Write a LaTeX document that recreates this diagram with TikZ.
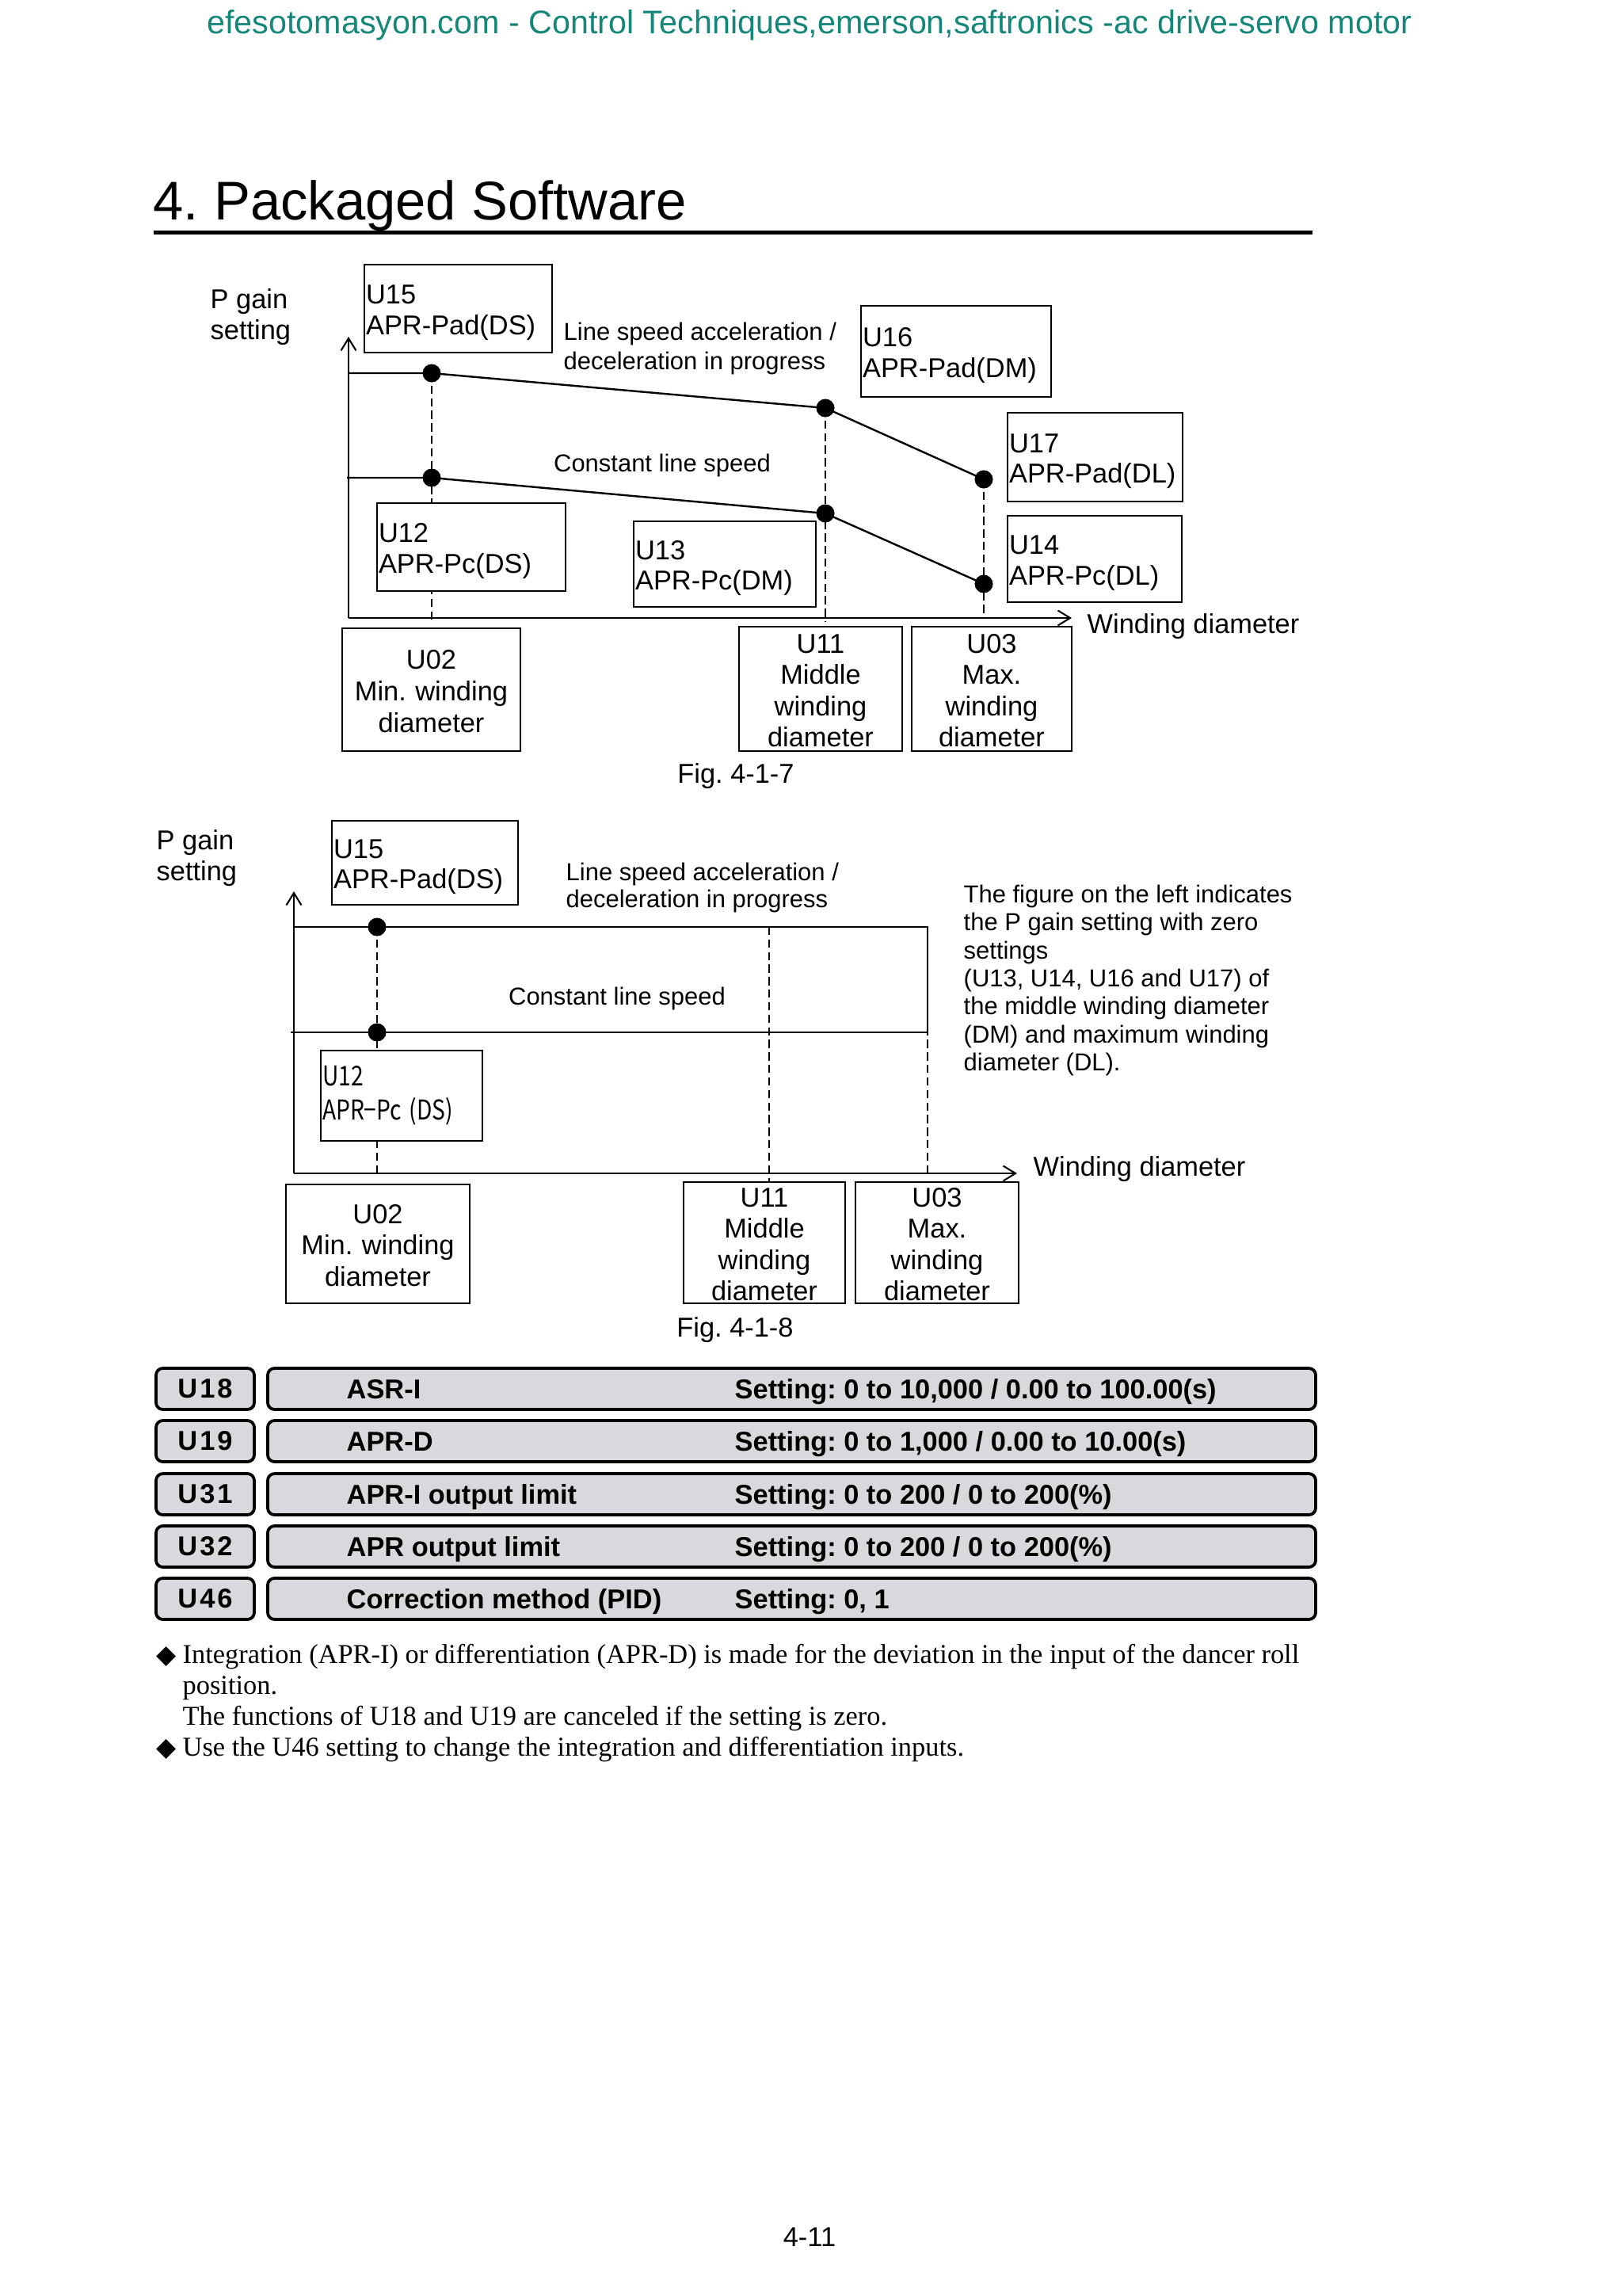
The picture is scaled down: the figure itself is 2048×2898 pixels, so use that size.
\documentclass[tikz,border=0pt]{standalone}
\usepackage{fontspec}
\usepackage{graphicx}
\setmainfont{Liberation Sans}
\newfontfamily\tmfont{Liberation Serif}
\newfontfamily\djfont{DejaVu Sans}
\newfontfamily\jpfont{Noto Sans CJK JP}
\newfontfamily\lsfont[LetterSpace=9]{Liberation Sans}
\usetikzlibrary{arrows.meta}
\definecolor{teal2}{RGB}{20,135,122}
\definecolor{barfill}{RGB}{218,216,220}
\frenchspacing
\begin{document}
\frenchspacing
\begin{tikzpicture}[x=0.29067pt, y=-0.29067pt,
  every node/.style={inner sep=0pt},
  ten/.style={font=\fontsize{10}{11.2}\selectfont},
  nine/.style={font=\fontsize{9}{11}\selectfont, align=left},
  lbox/.style={draw, line width=0.6pt, fill=white, inner xsep=0.6pt, inner ysep=0pt, align=left, font=\fontsize{10}{11.2}\selectfont, execute at begin node={\rule{0pt}{10pt}}},
  cbox/.style={draw, line width=0.6pt, fill=white, inner sep=0pt, align=center, font=\fontsize{10}{11.5}\selectfont, execute at begin node={\rule{0pt}{8.2pt}}},
  guide/.style={line width=0.6pt, dash pattern=on 3pt off 1.6pt},
  curve/.style={line width=0.7pt},
  dot/.style={circle, fill=black, minimum size=6.6pt},
  axis/.style={line width=0.6pt, -{Straight Barb[length=4.5pt,width=5.5pt]}},
  bar/.style={draw, line width=1.1pt, rounded corners=2.5pt, fill=barfill},
  btxt/.style={font=\bfseries\fontsize{10}{12}\selectfont, anchor=base west},
  note/.style={font=\tmfont\fontsize{10}{11.4}\selectfont, anchor=base west},
]
\useasboundingbox (0,0) rectangle (2048,2898);
\fill[white] (0,0) rectangle (2048,2898);

% header and title
\node[anchor=base, text=teal2, font=\fontsize{12}{14}\selectfont] (hdr) at (1022,42)
  {efesotomasyon.com - Control Techniques,emerson,saftronics -ac drive-servo motor};
\node[anchor=base west, font=\fontsize{20}{24}\selectfont] (title) at (193,277) {4. Packaged Software};
\coordinate (rl) at (194,293);
\coordinate (rr) at (1657,293);
\draw[line width=1.45pt] (rl) -- (rr);

% ================= Fig. 4-1-7 =================
\coordinate (o1) at (440,780);
\coordinate (yt1) at (440,425);
\coordinate (xt1) at (1353,780);
\coordinate (s1) at (440,471);
\coordinate (s2) at (438,603);
\coordinate (ea) at (545,783);
\coordinate (eb) at (1042,785);
\coordinate (ec) at (1242,780);
\node[dot] (a1) at (545,471) {};
\node[dot] (b1) at (1042,515) {};
\node[dot] (c1) at (1242,605) {};
\node[dot] (a2) at (545,603) {};
\node[dot] (b2) at (1042,648) {};
\node[dot] (c2) at (1242,737) {};

\draw[guide] (a1.center) -- (ea);
\draw[guide] (b1.center) -- (eb);
\draw[guide] (c1.center) -- (ec);

\node[ten, anchor=north west, align=left] (pg1) at (265,364) {P gain\\setting};
\node[lbox, text width=67.69pt, minimum height=32.26pt] (u15a) at (578.5,389.5) {U15\\APR-Pad(DS)};
\node[nine, anchor=north west] (ls1) at (711,406) {Line speed acceleration /\\deceleration in progress};
\node[lbox, text width=68.56pt, minimum height=33.43pt] (u16) at (1207,443.5) {U16\\APR-Pad(DM)};
\node[lbox, text width=68.0pt, minimum height=32.26pt] (u12a) at (595,690.5) {U12\\APR-Pc(DS)};
\node[lbox, text width=65.65pt, minimum height=31.39pt] (u13) at (915,712) {U13\\APR-Pc(DM)};
\node[lbox, text width=63.04pt, minimum height=32.56pt] (u17) at (1382.5,577) {U17\\APR-Pad(DL)};
\node[lbox, text width=62.75pt, minimum height=31.68pt] (u14) at (1382,705.5) {U14\\APR-Pc(DL)};
\node[font=\fontsize{9}{11}\selectfont, anchor=base] (cls1) at (836,595) {Constant line speed};

\draw[axis] (o1) -- (yt1);
\draw[axis] (o1) -- (xt1);
\draw[curve] (s1) -- (a1.center) -- (b1.center) -- (c1.center);
\draw[curve] (s2) -- (a2.center) -- (b2.center) -- (c2.center);
\node[dot] at (a1) {};
\node[dot] at (b1) {};
\node[dot] at (c1) {};
\node[dot] at (a2) {};
\node[dot] at (b2) {};
\node[dot] at (c2) {};

\node[ten, anchor=base west] (wd1) at (1372,799) {Winding diameter};
\node[cbox, text width=65.40pt, minimum height=45.05pt] (u02a) at (544.5,870.5) {U02\\Min. winding\\diameter};
\node[cbox, text width=59.88pt, minimum height=45.64pt] (u11a) at (1036,869.5) {U11\\Middle\\winding\\diameter};
\node[cbox, text width=58.72pt, minimum height=45.64pt] (u03a) at (1252,869.5) {U03\\Max.\\winding\\diameter};
\node[ten, anchor=base] (fig7) at (929,988) {Fig. 4-1-7};

% ================= Fig. 4-1-8 =================
\coordinate (o2) at (371,1481);
\coordinate (yt2) at (371,1125);
\coordinate (xt2) at (1284,1481);
\coordinate (t1) at (371,1170);
\coordinate (t2) at (1171,1170);
\coordinate (q1) at (367,1303);
\coordinate (q2) at (1171,1303);
\coordinate (m1) at (971,1170);
\coordinate (m2) at (971,1492);
\coordinate (r2) at (1171,1481);
\coordinate (d2) at (476,1481);
\node[dot] (p1) at (476,1170) {};
\node[dot] (p2) at (476,1303) {};

\draw[guide] (p1.center) -- (d2);
\draw[guide] (m1) -- (m2);
\draw[guide] (t2) -- (r2);

\node[ten, anchor=north west, align=left] (pg2) at (197,1047) {P gain\\setting};
\node[lbox, text width=67.11pt, minimum height=30.81pt] (u15b) at (536.5,1089) {U15\\APR-Pad(DS)};
\node[font=\fontsize{9}{10}\selectfont, align=left, anchor=north west] (ls2) at (714,1088) {Line speed acceleration /\\deceleration in progress};
\node[font=\fontsize{9}{10.3}\selectfont, align=left, anchor=north west] (expl) at (1216,1116)
  {The figure on the left indicates\\the P gain setting with zero\\settings\\(U13, U14, U16 and U17) of\\the middle winding diameter\\(DM) and maximum winding\\diameter (DL).};
\node[font=\fontsize{9}{11}\selectfont, anchor=base] (cls2) at (779,1268) {Constant line speed};
\node[draw, line width=0.6pt, fill=white, inner xsep=0.6pt, inner ysep=0pt, align=left, text width=58.1pt, minimum height=33.14pt, font=\jpfont\fontsize{10}{12.4}\selectfont] (u12b) at (507,1383)
  {\scalebox{0.82}[1]{U12}\\\scalebox{0.82}[1]{APR−Pc (DS)}\\[2pt]};

\draw[axis] (o2) -- (yt2);
\draw[axis] (o2) -- (xt2);
\draw[curve] (t1) -- (t2) -- (q2) -- (q1);
\draw[guide] (t2) -- (q2);
\node[dot] at (p1) {};
\node[dot] at (p2) {};

\node[ten, anchor=base west] (wd2) at (1304,1484) {Winding diameter};
\node[cbox, text width=67.44pt, minimum height=43.60pt] (u02b) at (477,1570) {U02\\Min. winding\\diameter};
\node[cbox, text width=59.30pt, minimum height=44.47pt] (u11b) at (965,1568.5) {U11\\Middle\\winding\\diameter};
\node[cbox, text width=59.88pt, minimum height=44.47pt] (u03b) at (1183,1568.5) {U03\\Max.\\winding\\diameter};
\node[ten, anchor=base] (fig8) at (928,1687) {Fig. 4-1-8};

% ================= parameter table =================
\tikzset{kbox/.style={bar, minimum width=36.04pt, minimum height=15.11pt, font=\lsfont\bfseries\fontsize{10}{12}\selectfont},
         rbox/.style={bar, minimum width=384.56pt, minimum height=15.11pt}}
\node[kbox] (k18) at (259,1753) {U18};
\node[rbox] (r18) at (999.5,1753) {};
\node[btxt] (n18) at (437,1765) {ASR-I};
\node[btxt] (v18) at (927,1765) {Setting: 0 to 10,000 / 0.00 to 100.00(s)};

\node[kbox] (k19) at (259,1819) {U19};
\node[rbox] (r19) at (999.5,1819) {};
\node[btxt] (n19) at (437,1831) {APR-D};
\node[btxt] (v19) at (927,1831) {Setting: 0 to 1,000 / 0.00 to 10.00(s)};

\node[kbox] (k31) at (259,1886) {U31};
\node[rbox] (r31) at (999.5,1886) {};
\node[btxt] (n31) at (437,1898) {APR-I output limit};
\node[btxt] (v31) at (927,1898) {Setting: 0 to 200 / 0 to 200(\%)};

\node[kbox] (k32) at (259,1952) {U32};
\node[rbox] (r32) at (999.5,1952) {};
\node[btxt] (n32) at (437,1964) {APR output limit};
\node[btxt] (v32) at (927,1964) {Setting: 0 to 200 / 0 to 200(\%)};

\node[kbox] (k46) at (259,2018) {U46};
\node[rbox] (r46) at (999.5,2018) {};
\node[btxt] (n46) at (437,2030) {Correction method (PID)};
\node[btxt] (v46) at (927,2030) {Setting: 0, 1};

% ================= notes =================
\node[note] (nt1) at (197,2099) {\makebox[9.6pt][l]{\djfont\fontsize{9.5}{11}\selectfont ◆}Integration (APR-I) or differentiation (APR-D) is made for the deviation in the input of the dancer roll};
\node[note] (nt2) at (230,2138) {position.};
\node[note] (nt3) at (230,2177) {The functions of U18 and U19 are canceled if the setting is zero.};
\node[note] (nt4) at (197,2216) {\makebox[9.6pt][l]{\djfont\fontsize{9.5}{11}\selectfont ◆}Use the U46 setting to change the integration and differentiation inputs.};

% page number
\node[ten, anchor=base] (pgno) at (1022,2835) {4-11};
\end{tikzpicture}
\end{document}
